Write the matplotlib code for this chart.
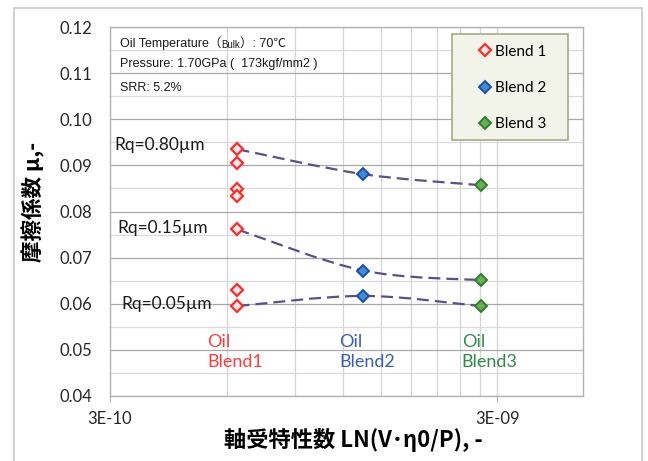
import numpy as np
import matplotlib
matplotlib.use("Agg")
import matplotlib.pyplot as plt
from matplotlib.path import Path
from matplotlib.patches import PathPatch, Rectangle
from matplotlib.ticker import FixedLocator, FixedFormatter, NullFormatter
from matplotlib.lines import Line2D

# bearing characteristic number for each oil (x, log scale)
x_blend = [6.4e-10, 1.35e-9, 2.72e-9]

# friction coefficient values
blend1_mu = [0.0935, 0.0905, 0.0848, 0.0834, 0.0761, 0.0629, 0.0595]
blend2_mu = [0.0881, 0.0672, 0.0617]
blend3_mu = [0.0857, 0.0651, 0.0595]

# dashed trend lines per surface roughness (Blend1 -> Blend2 -> Blend3)
rq_labels = ["Rq=0.80\u00b5m", "Rq=0.15\u00b5m", "Rq=0.05\u00b5m"]
rq_mu = [
    [0.0935, 0.0881, 0.0857],
    [0.0761, 0.0672, 0.0651],
    [0.0595, 0.0617, 0.0595],
]

legend_labels = ["Blend 1", "Blend 2", "Blend 3"]
oil_labels = ["Oil\nBlend1", "Oil\nBlend2", "Oil\nBlend3"]

LAT = ["Lato", "DejaVu Sans"]
CJK = ["Noto Sans CJK JP", "DejaVu Sans"]
NOTE = ["Liberation Sans", "Noto Sans CJK JP", "DejaVu Sans"]

fig = plt.figure(figsize=(6.48, 4.61), dpi=100)
ax = fig.add_axes([110 / 648, 1 - 396 / 461, 473.3 / 648, 369 / 461])

ax.set_xscale("log")
ax.set_xlim(3e-10, 5e-9)
ax.set_ylim(0.04, 0.12)


def smooth_path(xs, ys):
    # Excel-like smoothed line: cubic Bezier through the points, built in log-x space
    lx = np.log10(xs)
    y = np.asarray(ys)
    n = len(lx)
    verts = [(xs[0], ys[0])]
    codes = [Path.MOVETO]
    for i in range(n - 1):
        a = max(i - 1, 0)
        b = min(i + 2, n - 1)
        c1 = (lx[i] + (lx[i + 1] - lx[a]) / 6, y[i] + (y[i + 1] - y[a]) / 6)
        c2 = (lx[i + 1] - (lx[b] - lx[i]) / 6, y[i + 1] - (y[b] - y[i]) / 6)
        verts += [(10 ** c1[0], c1[1]), (10 ** c2[0], c2[1]), (xs[i + 1], ys[i + 1])]
        codes += [Path.CURVE4] * 3
    return Path(verts, codes)


for mus in rq_mu:
    patch = PathPatch(smooth_path(x_blend, mus), fill=False, ec="#5E4E8E",
                      lw=1.6, ls=(0, (5.4, 2.7)), zorder=3)
    ax.add_patch(patch)

b1 = dict(marker="D", ls="none", ms=6.5, mew=1.6, mfc="#FBE6E8", mec="#FF2B2B")
b2 = dict(marker="D", ls="none", ms=6.5, mew=1.4, mfc="#3D8CDB", mec="#1F4EA0")
b3 = dict(marker="D", ls="none", ms=6.5, mew=1.4, mfc="#6BB04A", mec="#2E7D32")

ax.plot([x_blend[0]] * len(blend1_mu), blend1_mu, zorder=4, **b1)
ax.plot([x_blend[1]] * len(blend2_mu), blend2_mu, zorder=4, **b2)
ax.plot([x_blend[2]] * len(blend3_mu), blend3_mu, zorder=4, **b3)

# ticks and grid
ax.xaxis.set_major_locator(FixedLocator([3e-10, 3e-9]))
ax.xaxis.set_major_formatter(FixedFormatter(["3E-10", "3E-09"]))
ax.xaxis.set_minor_locator(FixedLocator([k * 3e-10 for k in range(2, 10)]))
ax.xaxis.set_minor_formatter(NullFormatter())
ax.set_yticks(np.arange(0.04, 0.1201, 0.01))
ax.set_yticks(np.arange(0.045, 0.12, 0.01), minor=True)
ax.yaxis.set_major_formatter(plt.FuncFormatter(lambda v, p: f"{v:.2f}"))

ax.grid(True, which="major", axis="y", color="#A8A8A8", lw=0.9)
ax.grid(True, which="minor", axis="y", color="#D9D9D9", lw=0.9)
ax.grid(True, which="both", axis="x", color="#D4D4D4", lw=0.9)
ax.set_axisbelow(True)

ax.tick_params(axis="x", which="major", length=4, color="#B0B0B0", pad=7, labelsize=12)
ax.tick_params(axis="x", which="minor", length=0)
ax.tick_params(axis="y", which="both", length=0, pad=13, labelsize=12)
for lab in ax.get_xticklabels() + ax.get_yticklabels():
    lab.set_family(LAT)
    lab.set_color("#262626")
for s in ax.spines.values():
    s.set_color("#B3B3B3")
    s.set_linewidth(1.0)

# Rq labels
rq_pos = [(0.010, 0.680), (0.016, 0.455), (0.024, 0.249)]
for lab, (px, py) in zip(rq_labels, rq_pos):
    ax.text(px, py, lab, transform=ax.transAxes, ha="left", va="center",
            fontsize=12.5, family=LAT, color="#1A1A1A", zorder=5)

# oil labels under the points
oil_colors = ["#FF3B3B", "#3A5DB5", "#2E8B45"]
oil_x = [0.205, 0.484, 0.743]
for lab, c, px in zip(oil_labels, oil_colors, oil_x):
    ax.text(px, 0.119, lab, transform=ax.transAxes, ha="left", va="center",
            fontsize=13, family=LAT, color=c, linespacing=1.35, zorder=5)

# test conditions
t1 = ax.text(0.021, 0.956, "Oil Temperature\uff08", transform=ax.transAxes,
             ha="left", va="center", fontsize=9, family=NOTE, color="#1A1A1A")
t2 = ax.annotate("Bulk", xy=(1, 0), xycoords=t1, ha="left", va="bottom",
                 fontsize=7, family=NOTE, color="#1A1A1A")
ax.annotate("\uff09: 70\u2103", xy=(1, 0), xycoords=t2, ha="left", va="bottom",
            fontsize=9, family=NOTE, color="#1A1A1A")
ax.text(0.021, 0.899, "Pressure: 1.70GPa (  173kgf/mm2 )", transform=ax.transAxes,
        ha="left", va="center", fontsize=9, family=NOTE, color="#1A1A1A")
ax.text(0.021, 0.834, "SRR: 5.2%", transform=ax.transAxes,
        ha="left", va="center", fontsize=9, family=NOTE, color="#1A1A1A")

# legend box
ax.add_patch(Rectangle((0.7226, 0.694), 0.245, 0.287, transform=ax.transAxes,
                       fc="#F2F4EA", ec="#A3AA86", lw=1.2, zorder=5))
handles = [Line2D([], [], **b1), Line2D([], [], **b2), Line2D([], [], **b3)]
leg = ax.legend(handles, legend_labels, loc="upper left", bbox_to_anchor=(0.780, 0.952),
                frameon=False, borderpad=0, borderaxespad=0, handlelength=0.8,
                handletextpad=0.25, labelspacing=1.45,
                prop={"family": LAT, "size": 11})
leg.set_zorder(6)

# axis titles
fig.text(353 / 648, 1 - 440 / 461, "\u8ef8\u53d7\u7279\u6027\u6570 LN(V\uff65\u03b70/P), -",
         ha="center", va="center", fontsize=16, fontweight="bold", family=CJK)
fig.text(33 / 648, 1 - 202 / 461, "\u6469\u64e6\u4fc2\u6570 \u03bc,-", rotation=90,
         ha="center", va="center", fontsize=15.5, fontweight="bold", family=CJK)

# chart area border
fig.add_artist(Rectangle((14 / 648, -0.1), 628 / 648, 1.1 - 8 / 461,
                         transform=fig.transFigure, fill=False, ec="#C8C8C8", lw=1.2))

fig.savefig("out.png", dpi=100)
